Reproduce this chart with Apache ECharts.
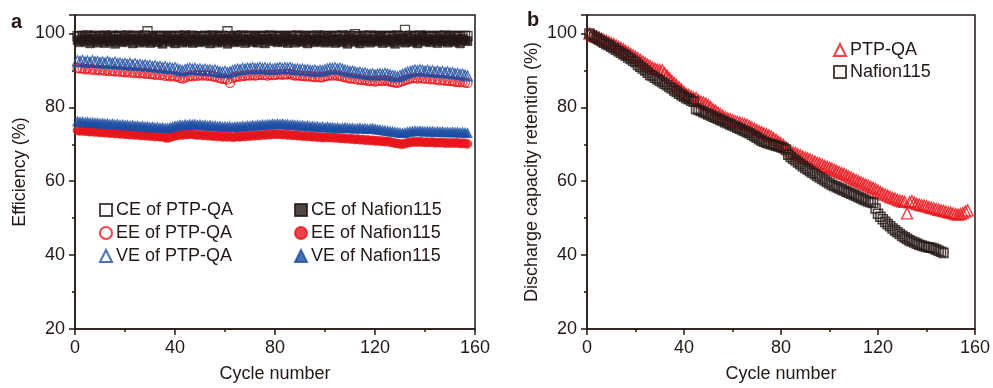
<!DOCTYPE html>
<html><head><meta charset="utf-8">
<script src="https://cdn.jsdelivr.net/npm/echarts@6/dist/echarts.min.js"></script>
<style>html,body{margin:0;padding:0;background:#fff}#c{width:993px;height:388px}</style>
</head><body><div id="c"></div>
<script>
// ---------- DATA ----------
const cyclesA = [1,2,3,4,5,6,7,8,9,10,11,12,13,14,15,16,17,18,19,20,21,22,23,24,25,26,27,28,29,30,31,32,33,34,35,36,37,38,39,40,41,42,43,44,45,46,47,48,49,50,51,52,53,54,55,56,57,58,59,60,61,62,63,64,65,66,67,68,69,70,71,72,73,74,75,76,77,78,79,80,81,82,83,84,85,86,87,88,89,90,91,92,93,94,95,96,97,98,99,100,101,102,103,104,105,106,107,108,109,110,111,112,113,114,115,116,117,118,119,120,121,122,123,124,125,126,127,128,129,130,131,132,133,134,135,136,137,138,139,140,141,142,143,144,145,146,147,148,149,150,151,152,153,154,155,156,157];
const cyclesB = cyclesA;
const xTicks = [0, 40, 80, 120, 160];
const yTicks = [20, 40, 60, 80, 100];

const cePTP = [99.3,99.1,99.4,99.2,99.5,99.0,99.3,99.4,99.1,99.3,
99.2,99.5,99.0,99.3,99.4,99.2,99.1,99.4,99.3,99.2,
99.5,99.1,99.3,99.2,99.4,99.0,99.3,99.5,100.6,99.2,
99.3,99.1,99.4,99.2,99.3,99.0,99.4,99.2,99.3,99.1,
99.4,99.2,99.3,99.5,99.1,99.2,99.4,99.3,99.0,99.2,
99.3,99.4,99.1,99.2,99.5,99.3,99.2,99.0,99.4,99.3,
100.6,99.2,99.1,99.4,99.3,99.2,99.5,99.1,99.3,99.2,
99.4,99.0,99.3,99.2,99.4,99.1,99.3,99.5,99.2,99.3,
99.1,99.4,99.2,99.3,99.0,99.4,99.2,99.3,99.5,99.1,
99.3,99.2,99.4,99.1,99.3,99.2,99.5,99.0,99.3,99.4,
99.2,99.3,99.1,99.4,99.2,99.3,99.5,99.1,99.2,99.4,
99.3,99.8,99.2,99.1,99.4,99.3,99.2,99.5,99.1,99.3,
99.2,99.4,99.0,99.3,99.2,99.4,99.1,99.3,99.5,99.2,
99.3,101.0,99.2,99.4,99.1,99.3,99.2,99.5,99.3,99.1,
99.4,99.2,99.3,99.0,99.4,99.2,99.3,99.5,99.1,99.3,
99.2,99.4,99.1,99.3,99.2,99.4,99.3];
const eePTP = [90.7,90.5,90.6,90.3,90.5,90.2,90.4,90.1,90.3,90.0,
90.2,89.9,90.1,89.8,90.0,89.7,89.9,89.6,89.8,89.5,
89.7,89.4,89.6,89.3,89.5,89.2,89.4,89.1,89.3,89.0,
89.1,88.8,89.0,88.7,88.9,88.5,88.7,88.4,88.6,88.3,
88.4,88.0,87.8,88.1,88.3,88.6,88.4,88.7,88.5,88.8,
88.6,88.8,88.5,88.7,88.4,88.3,88.1,87.9,87.7,87.8,
87.5,86.6,87.9,88.2,88.4,88.3,88.6,88.5,88.7,88.6,
88.8,88.6,88.7,88.9,88.7,88.8,88.6,88.9,88.7,88.8,
88.9,89.0,88.8,89.0,88.9,89.1,88.8,88.6,88.7,88.5,
88.6,88.4,88.5,88.3,88.4,88.2,88.3,88.1,88.2,88.4,
88.5,88.7,88.6,88.8,88.5,88.6,88.3,88.2,88.0,87.8,
87.9,87.7,87.5,87.6,87.4,87.5,87.2,87.1,87.3,87.0,
87.2,87.3,87.1,87.4,87.2,87.0,86.9,86.7,86.6,86.9,
87.1,87.4,87.6,87.8,87.9,88.0,87.8,88.1,87.9,87.7,
87.9,87.6,87.8,87.5,87.6,87.3,87.5,87.2,87.4,87.1,
87.2,86.9,87.0,86.8,86.9,86.7,86.6];
const vePTP = [92.6,92.4,92.7,92.3,92.5,92.2,92.6,92.3,92.4,92.1,
92.3,92.0,92.4,92.1,91.9,92.2,91.8,92.0,91.7,91.9,
91.6,91.9,91.5,91.8,91.4,91.6,91.3,91.5,91.2,91.4,
91.0,91.3,90.9,91.1,90.7,91.0,90.6,90.8,90.5,90.7,
90.4,90.1,89.9,90.2,90.4,90.6,90.3,90.5,90.2,90.4,
90.1,90.3,90.0,90.2,89.9,90.1,89.8,89.6,89.5,89.7,
89.4,89.6,89.9,90.1,90.3,90.2,90.5,90.4,90.6,90.5,
90.7,90.5,90.6,90.8,90.5,90.7,90.4,90.6,90.3,90.5,
90.6,90.8,90.5,90.7,90.6,90.8,90.5,90.3,90.4,90.2,
90.3,90.1,90.2,90.0,89.9,90.1,89.8,90.0,89.9,90.2,
90.4,90.6,90.5,90.7,90.4,90.6,90.3,90.1,89.9,89.7,
89.8,89.6,89.4,89.5,89.2,89.3,89.0,88.9,89.1,88.8,
89.0,89.1,88.9,89.2,89.0,88.8,88.6,88.5,88.3,88.6,
88.9,89.2,89.5,89.7,89.9,90.1,89.9,90.2,90.0,89.8,
90.0,89.7,89.9,89.6,89.8,89.5,89.7,89.4,89.6,89.3,
89.4,89.1,89.2,88.9,89.0,88.7,88.5];
const ceNaf = [98.2,97.6,98.8,97.9,98.4,97.3,98.6,98.0,97.5,98.7,
98.1,97.4,98.9,97.8,98.3,97.2,98.5,98.0,97.6,98.8,
97.9,98.4,97.3,98.6,98.1,97.5,98.7,97.8,98.3,97.4,
98.9,98.0,97.6,98.5,97.2,98.2,98.8,97.7,98.4,97.3,
98.6,98.1,97.5,98.9,97.8,98.3,97.4,98.7,98.0,97.6,
98.5,97.9,98.2,97.3,98.8,98.1,97.5,98.6,97.8,98.4,
97.2,98.7,98.0,97.6,98.9,97.9,98.3,97.4,98.5,98.1,
97.7,98.8,97.5,98.2,98.6,97.3,98.4,97.9,98.7,98.0,
97.6,98.5,97.8,98.9,97.4,98.2,98.6,97.5,98.3,98.0,
97.7,98.8,97.3,98.4,98.1,97.6,98.7,97.9,98.2,97.5,
98.9,97.8,98.3,97.4,98.6,98.0,97.6,98.5,97.2,98.8,
98.1,97.7,98.4,97.3,98.7,97.9,98.2,97.5,98.6,98.0,
97.8,98.9,97.4,98.3,98.1,97.6,98.5,97.2,98.7,97.9,
98.4,97.5,98.8,98.0,97.7,98.6,97.3,98.2,98.9,97.8,
98.3,97.6,98.5,98.1,97.4,98.7,97.9,98.2,97.5,98.8,
98.0,97.7,98.4,97.3,98.6,98.1,97.9];
const eeNaf = [73.8,73.6,73.7,73.5,73.6,73.4,73.5,73.3,73.4,73.2,
73.3,73.1,73.2,73.0,73.1,72.9,73.0,72.8,72.9,72.7,
72.8,72.6,72.7,72.5,72.6,72.4,72.5,72.3,72.4,72.2,
72.3,72.1,72.2,72.0,72.1,71.8,71.7,71.9,72.1,72.3,
72.4,72.6,72.5,72.7,72.6,72.8,72.7,72.6,72.5,72.6,
72.4,72.5,72.3,72.4,72.2,72.3,72.1,72.2,72.0,72.1,
72.0,72.1,71.9,72.0,72.1,72.0,72.2,72.1,72.3,72.2,
72.4,72.3,72.5,72.4,72.6,72.5,72.7,72.6,72.8,72.7,
72.8,72.7,72.6,72.7,72.5,72.6,72.4,72.5,72.3,72.4,
72.2,72.3,72.1,72.2,72.0,72.1,71.9,72.0,71.8,71.9,
71.9,71.8,71.9,71.7,71.8,71.6,71.7,71.5,71.6,71.4,
71.5,71.3,71.4,71.2,71.3,71.1,71.2,71.0,71.1,70.9,
71.0,70.8,70.9,70.7,70.8,70.6,70.5,70.3,70.2,70.1,
70.0,70.2,70.4,70.5,70.6,70.7,70.6,70.7,70.6,70.5,
70.6,70.5,70.6,70.4,70.5,70.4,70.5,70.3,70.4,70.3,
70.4,70.3,70.4,70.2,70.3,70.2,70.1];
const veNaf = [76.3,76.1,76.2,76.0,76.1,75.9,76.0,75.8,75.9,75.7,
75.8,75.6,75.7,75.5,75.6,75.4,75.5,75.3,75.4,75.2,
75.3,75.1,75.2,75.0,75.1,74.9,75.0,74.8,74.9,74.7,
74.8,74.6,74.7,74.5,74.6,74.4,74.5,74.6,74.8,75.0,
75.1,75.3,75.2,75.4,75.3,75.5,75.4,75.5,75.3,75.4,
75.2,75.3,75.1,75.2,75.0,75.1,74.9,75.0,74.8,74.9,
74.8,74.9,74.7,74.8,74.9,74.8,75.0,74.9,75.1,75.0,
75.2,75.1,75.3,75.2,75.4,75.3,75.5,75.4,75.6,75.5,
75.6,75.5,75.6,75.4,75.5,75.3,75.4,75.2,75.3,75.1,
75.2,75.0,75.1,74.9,75.0,74.8,74.9,74.7,74.8,74.6,
74.8,74.6,74.7,74.5,74.6,74.4,74.5,74.6,74.5,74.4,
74.5,74.3,74.4,74.5,74.3,74.4,74.2,74.3,74.4,74.2,
74.1,74.0,73.9,73.8,73.7,73.6,73.5,73.4,73.3,73.2,
73.1,73.2,73.4,73.5,73.6,73.7,73.6,73.7,73.6,73.5,
73.6,73.5,73.6,73.4,73.5,73.4,73.5,73.3,73.4,73.3,
73.4,73.3,73.4,73.2,73.3,73.2,73.1];

const retPTP = [100.0,99.6,99.3,99.1,98.8,98.6,98.2,98.0,97.7,97.4,
97.1,96.8,96.4,96.1,95.7,95.3,94.9,94.5,94.1,93.7,
93.3,92.9,92.4,92.0,91.6,91.2,90.8,90.5,90.2,90.1,
90.0,89.3,88.6,87.9,87.2,86.6,86.0,85.4,84.8,84.2,
83.6,83.4,83.0,82.6,82.5,82.0,81.6,81.3,81.0,80.6,
80.1,79.5,79.1,78.6,78.2,77.7,77.3,77.0,76.8,76.5,
76.3,76.1,75.9,75.7,75.5,75.3,74.9,74.6,74.2,73.9,
73.5,73.3,73.0,72.7,72.4,72.1,71.6,71.2,70.7,70.3,
69.8,69.2,68.6,68.1,67.8,67.6,67.3,67.0,66.7,66.4,
66.2,65.9,65.6,65.3,65.0,64.8,64.5,64.2,63.9,63.7,
63.4,63.1,62.8,62.5,62.2,62.0,61.6,61.3,60.9,60.6,
60.3,60.0,59.7,59.4,59.1,58.8,58.5,58.2,57.9,57.5,
57.1,56.7,56.4,56.1,55.8,55.5,55.3,55.0,54.8,54.6,
54.4,51.3,54.3,54.6,54.2,53.9,53.7,53.5,53.4,53.2,
53.0,52.8,52.7,52.5,52.3,52.1,52.0,51.8,51.6,51.5,
51.3,51.1,51.0,51.1,51.4,51.8,52.1];
const retNaf = [100.0,99.5,99.1,98.7,98.3,97.9,97.5,97.1,96.8,96.4,
96.0,95.6,95.2,94.8,94.4,94.0,93.5,93.1,92.6,92.2,
91.5,91.0,90.5,90.0,89.4,88.8,88.5,88.0,87.6,87.2,
86.8,86.4,86.0,85.5,85.1,84.6,84.2,83.7,83.3,82.9,
82.5,82.2,81.8,81.5,79.6,79.3,79.0,78.7,78.4,78.1,
77.8,77.5,77.2,76.9,76.6,76.3,76.0,75.7,75.4,75.1,
74.8,74.5,74.2,73.9,73.6,73.3,73.0,72.6,72.2,71.8,
71.4,71.0,70.7,70.4,70.2,70.0,69.8,69.6,69.4,69.2,
69.0,68.6,67.2,66.6,66.1,65.6,65.1,64.6,64.1,63.6,
63.2,62.7,62.3,61.9,61.4,61.0,60.6,60.2,59.8,59.4,
59.0,58.7,58.4,58.1,57.8,57.5,57.2,56.9,56.6,56.3,
56.0,55.7,55.4,55.1,54.8,54.5,54.3,54.1,52.6,51.2,
50.4,49.7,49.0,48.4,47.8,47.2,46.7,46.2,45.7,45.2,
44.8,44.4,44.0,43.7,43.4,43.1,42.8,42.6,42.4,42.2,
42.1,42.0,41.8,41.5,41.2,40.9,40.6];

// ---------- CHART ----------
const BLACK = '#231815', RED = '#e8141c', BLUE = '#1d4ea3';
const FONT = '"Liberation Sans", Arial, sans-serif';
const pairs = (xs, ys) => ys.map((v, i) => [xs[i], v]);

function xAxis(gridIndex) {
  return {
    type: 'value', gridIndex, min: 0, max: 160, interval: 40,
    name: 'Cycle number', nameLocation: 'middle', nameGap: 36,
    nameTextStyle: {fontFamily: FONT, fontSize: 18, color: BLACK},
    axisLine: {show: true, onZero: false, lineStyle: {color: BLACK, width: 1.5}},
    axisTick: {show: true, inside: false, length: 6, lineStyle: {color: BLACK, width: 1.5}},
    minorTick: {show: true, splitNumber: 2, length: 3, lineStyle: {color: BLACK, width: 1.5}},
    axisLabel: {fontFamily: FONT, fontSize: 18, color: BLACK, margin: 10},
    splitLine: {show: false}
  };
}
function yAxis(gridIndex, name) {
  return {
    type: 'value', gridIndex, min: 20, max: 105, interval: 20,
    name, nameLocation: 'middle', nameGap: 46,
    nameTextStyle: {fontFamily: FONT, fontSize: 18, color: BLACK},
    axisLine: {show: true, onZero: false, lineStyle: {color: BLACK, width: 1.5}},
    axisTick: {show: true, inside: false, length: 6, lineStyle: {color: BLACK, width: 1.5}},
    minorTick: {show: true, splitNumber: 2, length: 3, lineStyle: {color: BLACK, width: 1.5}},
    axisLabel: {fontFamily: FONT, fontSize: 18, color: BLACK, margin: 10, showMaxLabel: false},
    splitLine: {show: false}
  };
}
function sc(name, xi, data, symbol, size, color, filled, z, bw) {
  return {
    name, type: 'scatter', xAxisIndex: xi, yAxisIndex: xi, data, symbol, symbolSize: size,
    z: z, silent: true, animation: false,
    itemStyle: filled ? {color, borderColor: color, borderWidth: 0.5}
                      : {color: 'rgba(255,255,255,0)', borderColor: color, borderWidth: bw || 1.3}
  };
}
const legendText = {fontFamily: FONT, fontSize: 18, color: BLACK, padding: [0,0,0,-1]};

const chart = echarts.init(document.getElementById('c'), null, {renderer: 'canvas'});
chart.setOption({
  animation: false,
  backgroundColor: '#fff',
  grid: [
    {left: 75, top: 15, width: 400, height: 316, show: true, borderColor: BLACK, borderWidth: 1.5, backgroundColor: 'transparent'},
    {left: 587, top: 15, width: 391, height: 318, show: true, borderColor: BLACK, borderWidth: 1.5, backgroundColor: 'transparent'}
  ],
  xAxis: [xAxis(0), xAxis(1)],
  yAxis: [yAxis(0, 'Efficiency (%)'), yAxis(1, 'Discharge capacity retention (%)')],
  legend: [
    {data: ['CE of PTP-QA', 'EE of PTP-QA', 'VE of PTP-QA'], orient: 'vertical', left: 94, top: 196,
     itemWidth: 12, itemHeight: 12, itemGap: 5, textStyle: legendText},
    {data: ['CE of Nafion115', 'EE of Nafion115', 'VE of Nafion115'], orient: 'vertical', left: 289, top: 196,
     itemWidth: 12, itemHeight: 12, itemGap: 5, textStyle: legendText},
    {data: ['PTP-QA', 'Nafion115'], orient: 'vertical', left: 828, top: 36,
     itemWidth: 12, itemHeight: 12, itemGap: 4, textStyle: legendText}
  ],
  graphic: [
    {type: 'text', left: 11, top: 12, style: {text: 'a', font: 'bold 20px ' + FONT, fill: BLACK}},
    {type: 'text', left: 527, top: 10, style: {text: 'b', font: 'bold 20px ' + FONT, fill: BLACK}}
  ],
  series: [
    sc('CE of PTP-QA', 0, pairs(cyclesA, cePTP), 'rect', 9, BLACK, false, 2),
    sc('EE of PTP-QA', 0, pairs(cyclesA, eePTP), 'circle', 9, RED, false, 2),
    sc('VE of PTP-QA', 0, pairs(cyclesA, vePTP), 'triangle', 10, BLUE, false, 2),
    sc('CE of Nafion115', 0, pairs(cyclesA, ceNaf), 'rect', 9, BLACK, true, 3),
    sc('EE of Nafion115', 0, pairs(cyclesA, eeNaf), 'circle', 9, RED, true, 3),
    sc('VE of Nafion115', 0, pairs(cyclesA, veNaf), 'triangle', 10, BLUE, true, 4),
    sc('PTP-QA', 1, pairs(cyclesB, retPTP), 'triangle', 11, RED, false, 2, 1.4),
    sc('Nafion115', 1, pairs(cyclesB, retNaf), 'rect', 9, BLACK, false, 3, 1.6)
  ]
});
</script></body></html>
